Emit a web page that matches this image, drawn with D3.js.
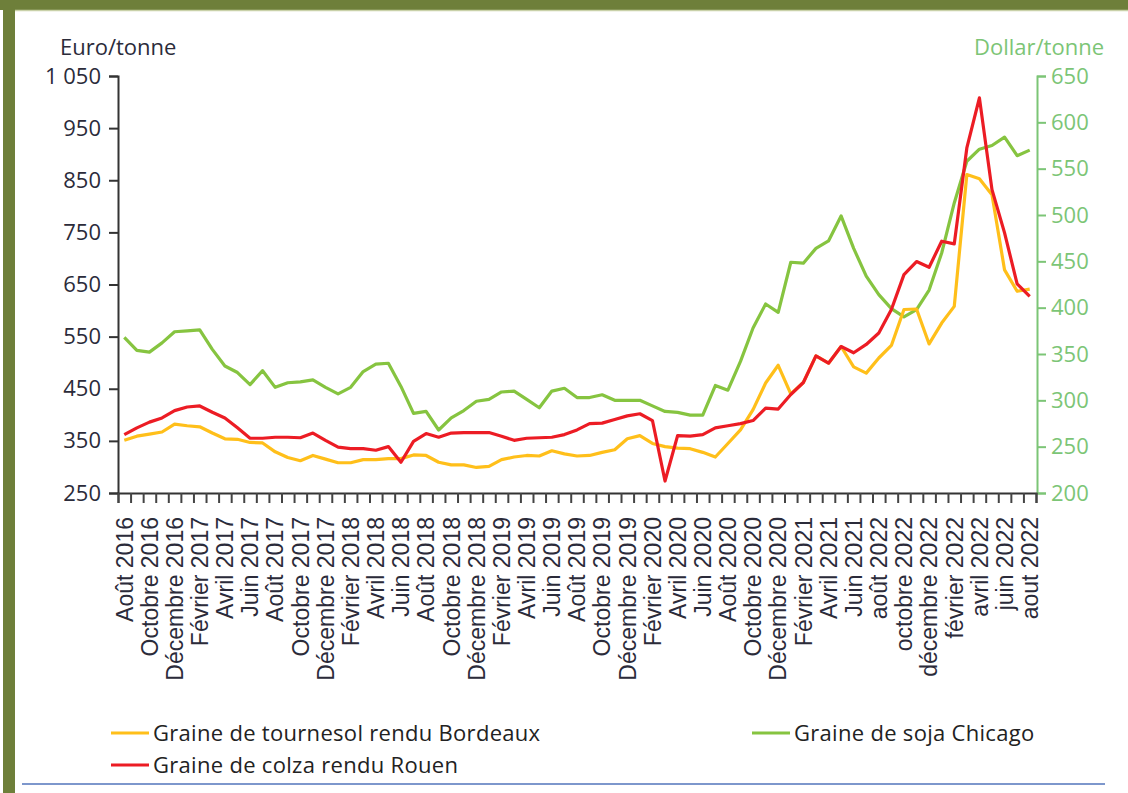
<!DOCTYPE html>
<html>
<head>
<meta charset="utf-8">
<script src="https://cdn.jsdelivr.net/npm/d3@7"></script>
<style>
  body { margin: 0; background: #fff; }
  svg { display: block; }
</style>
</head>
<body>
<div id="chart"></div>
<script>
// monthly data, Août 2016 -> août 2022 (73 months)
const tickLabels = [
  "Août 2016", "Octobre 2016", "Décembre 2016", "Février 2017", "Avril 2017", "Juin 2017",
  "Août 2017", "Octobre 2017", "Décembre 2017", "Février 2018", "Avril 2018", "Juin 2018",
  "Août 2018", "Octobre 2018", "Décembre 2018", "Février 2019", "Avril 2019", "Juin 2019",
  "Août 2019", "Octobre 2019", "Décembre 2019", "Février 2020", "Avril 2020", "Juin 2020",
  "Août 2020", "Octobre 2020", "Décembre 2020", "Février 2021", "Avril 2021", "Juin 2021",
  "août 2022", "octobre 2022", "décembre 2022", "février 2022", "avril 2022", "juin 2022",
  "aout 2022"
]

// Graine de tournesol rendu Bordeaux (euro/tonne)
const tournesol = [
  351, 359, 363, 367, 382, 379, 377, 365, 354, 353, 347, 346, 329, 318, 312, 322, 315, 308, 308, 314, 314, 316, 316, 323, 322,
  309, 304, 304, 299, 301, 314, 319, 322, 321, 331, 325, 321, 322, 328, 333, 354, 360, 345, 339, 336, 335, 328, 319, 345,
  371, 410, 461, 495, 440, 462, 513, 499, 531, 492, 480, 509, 533, 602, 603, 536, 576, 608, 861, 853, 822, 678, 637, 641
]

// Graine de colza rendu Rouen (euro/tonne)
const colza = [
  362, 375, 386, 394, 408, 415, 417, 405, 394, 375, 355, 355, 357, 357, 356, 365, 351, 338, 335, 335, 332, 339, 309, 349, 364,
  357, 365, 366, 366, 366, 359, 351, 355, 356, 357, 362, 371, 383, 384, 391, 398, 402, 389, 273, 360, 359, 362, 375, 379,
  383, 389, 413, 411, 439, 462, 513, 499, 531, 519, 535, 557, 602, 669, 694, 683, 733, 728, 912, 1008, 832, 749, 651, 627
]

// Graine de soja Chicago (dollar/tonne)
const soja = [
  368, 354, 352, 362, 374, 375, 376, 355, 337, 330, 317, 332, 314, 319, 320, 322, 314, 307, 314, 331, 339, 340, 315, 286, 288,
  268, 281, 289, 299, 301, 309, 310, 301, 292, 310, 313, 303, 303, 306, 300, 300, 300, 294, 288, 287, 284, 284, 316, 311,
  342, 378, 404, 395, 449, 448, 464, 472, 499, 464, 434, 414, 399, 390, 398, 419, 459, 513, 558, 571, 575, 584, 564, 570
]

const leftTicks = [250, 350, 450, 550, 650, 750, 850, 950, 1050]
const rightTicks = [200, 250, 300, 350, 400, 450, 500, 550, 600, 650]

const W = 1128, H = 793
const margin = {left: 118, right: 1036, top: 76, bottom: 493}

const cYellow = "#ffbf1a", cRed = "#ec1c24", cGreen = "#86c440"
const axisGreen = "#7cc576"
const textDark = "#2b2b3a"

const svg = d3.select("#chart").append("svg")
    .attr("width", W)
    .attr("height", H)

// frame
svg.append("rect").attr("x", 0).attr("y", 0).attr("width", W).attr("height", 10).attr("fill", "#6e7f3a")
svg.append("rect").attr("x", 3).attr("y", 0).attr("width", 12).attr("height", H).attr("fill", "#6e7f3a")
svg.append("line").attr("x1", 15).attr("x2", W).attr("y1", 10.5).attr("y2", 10.5)
    .attr("stroke", "#c9d1a9").attr("stroke-width", 1.5)

const n = tournesol.length
const months = d3.range(n)

const x = d3.scaleBand()
    .domain(months)
    .range([margin.left, margin.right])
    .padding(0)

const xEdge = d3.scaleLinear()
    .domain([0, n])
    .range([margin.left, margin.right])

const yL = d3.scaleLinear().domain([250, 1050]).range([margin.bottom, margin.top])
const yR = d3.scaleLinear().domain([200, 650]).range([margin.bottom, margin.top])

const fmt = d => d3.format(",")(d).replace(",", " ")

// left axis
const gL = svg.append("g")
    .attr("transform", `translate(${margin.left},0)`)
    .call(d3.axisLeft(yL).tickValues(leftTicks).tickFormat(fmt).tickSize(9).tickPadding(8))
gL.select(".domain").attr("stroke", "#333").attr("stroke-width", 2)
gL.selectAll(".tick line").attr("stroke", "#333").attr("stroke-width", 2)
gL.selectAll("text")
    .attr("fill", textDark)
    .style("font-family", "'Open Sans', sans-serif")
    .style("font-size", "22px")

// right axis
const gR = svg.append("g")
    .attr("transform", `translate(${margin.right + 1},0)`)
    .call(d3.axisRight(yR).tickValues(rightTicks).tickSize(9).tickPadding(5))
gR.select(".domain").attr("stroke", axisGreen).attr("stroke-width", 2)
gR.selectAll(".tick line").attr("stroke", axisGreen).attr("stroke-width", 2)
gR.selectAll("text")
    .attr("fill", axisGreen)
    .style("font-family", "'Open Sans', sans-serif")
    .style("font-size", "22px")

// x axis: month ticks at band edges
const gXt = svg.append("g")
    .attr("transform", `translate(0,${margin.bottom})`)
    .call(d3.axisBottom(xEdge).tickValues(d3.range(n + 1)).tickFormat("").tickSize(10))
gXt.select(".domain").attr("stroke", "#333").attr("stroke-width", 2)
gXt.selectAll(".tick line").attr("stroke", "#444").attr("stroke-width", 2)

// x labels every 2 months
const labelled = months.filter(i => i % 2 === 0)
const gX = svg.append("g")
    .attr("transform", `translate(0,${margin.bottom})`)
    .call(d3.axisBottom(x).tickValues(labelled).tickFormat(i => tickLabels[i / 2]).tickSize(0))
gX.select(".domain").remove()
gX.selectAll("text")
    .attr("transform", "rotate(-90)")
    .attr("x", -24)
    .attr("y", 0)
    .attr("dy", "0.36em")
    .style("text-anchor", "end")
    .attr("fill", textDark)
    .style("font-family", "'Liberation Sans', Arial, sans-serif")
    .style("font-size", "23px")

// axis titles
svg.append("text")
    .attr("x", 60).attr("y", 55)
    .text("Euro/tonne")
    .attr("fill", textDark)
    .style("font-family", "'Open Sans', sans-serif")
    .style("font-size", "22px")

svg.append("text")
    .attr("x", 1104).attr("y", 55)
    .attr("text-anchor", "end")
    .text("Dollar/tonne")
    .attr("fill", axisGreen)
    .style("font-family", "'Open Sans', sans-serif")
    .style("font-size", "22px")

// lines
const lineL = d3.line().x((d, i) => x(i) + x.bandwidth() / 2).y(d => yL(d))
const lineR = d3.line().x((d, i) => x(i) + x.bandwidth() / 2).y(d => yR(d))

svg.append("path").datum(soja)
    .attr("d", lineR).attr("fill", "none").attr("stroke", cGreen).attr("stroke-width", 3.2)
    .attr("stroke-linejoin", "round")
svg.append("path").datum(tournesol)
    .attr("d", lineL).attr("fill", "none").attr("stroke", cYellow).attr("stroke-width", 3.2)
    .attr("stroke-linejoin", "round")
svg.append("path").datum(colza)
    .attr("d", lineL).attr("fill", "none").attr("stroke", cRed).attr("stroke-width", 3.2)
    .attr("stroke-linejoin", "round")

// legend
const legend = [
  { name: "Graine de tournesol rendu Bordeaux", color: cYellow, x: 111, y: 733, len: 38 },
  { name: "Graine de colza rendu Rouen", color: cRed, x: 111, y: 765, len: 38 },
  { name: "Graine de soja Chicago", color: cGreen, x: 752, y: 733, len: 38 }
]
const lg = svg.append("g")
legend.forEach(d => {
  lg.append("line")
    .attr("x1", d.x).attr("x2", d.x + d.len)
    .attr("y1", d.y).attr("y2", d.y)
    .attr("stroke", d.color).attr("stroke-width", 3)
  lg.append("text")
    .attr("x", d.x + d.len + 4).attr("y", d.y + 8)
    .text(d.name)
    .attr("fill", "#222")
    .style("font-family", "'Open Sans', sans-serif")
    .style("font-size", "22px")
    .style("letter-spacing", "0.3px")
})

// rule under legend
svg.append("line")
    .attr("x1", 22).attr("x2", 1105)
    .attr("y1", 784).attr("y2", 784)
    .attr("stroke", "#7d97cc").attr("stroke-width", 2)
</script>
</body>
</html>
